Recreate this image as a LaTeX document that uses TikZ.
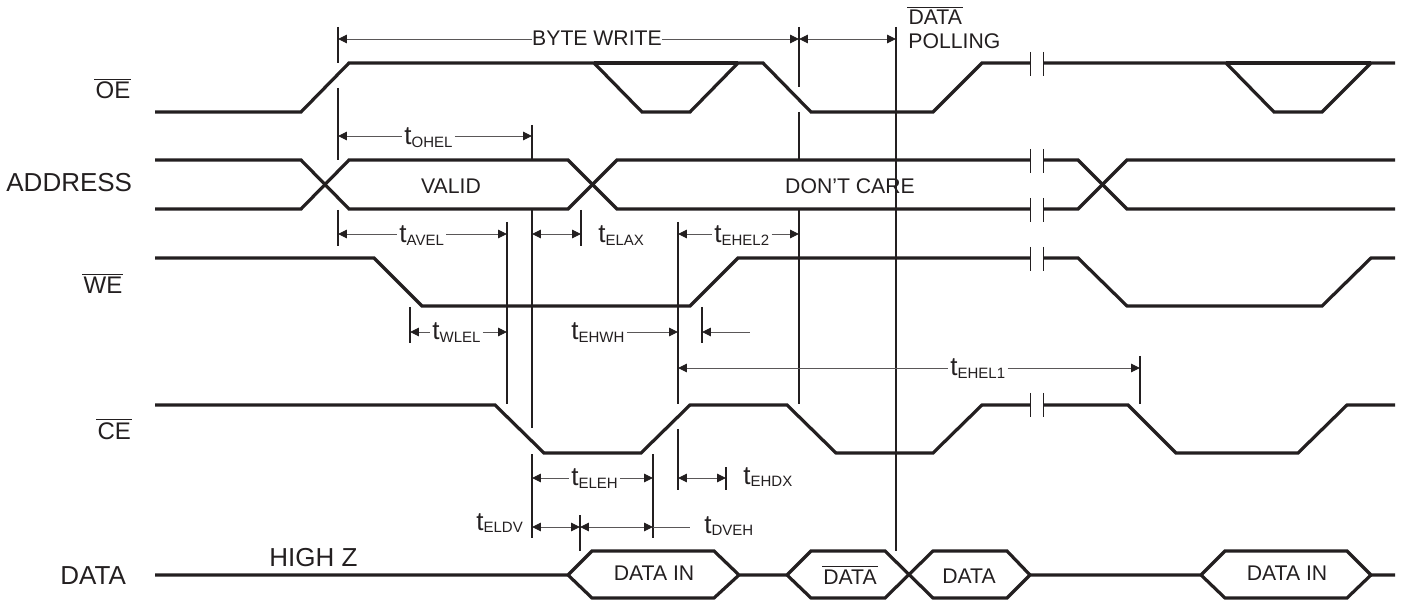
\documentclass[tikz,border=0pt]{standalone}
\usepackage{fontspec}
\setmainfont{Liberation Sans}
\usepackage{xcolor}
\definecolor{colorWave}{HTML}{231F20}
\colorlet{colorDim}{colorWave!75}
\usetikzlibrary{arrows.meta, positioning}
\newcommand{\tlabel}[1]{t\raisebox{-1.2pt}{\fontsize{7.5}{9}\selectfont #1}}
\newcommand{\barred}[1]{$\overline{\hbox{\kern0.6pt #1\kern0.6pt}}$}
\tikzset{
  wave/.style={line width=1.6pt, colorWave},
  tick/.style={line width=0.8pt, colorWave},
  breaktick/.style={line width=0.5pt, colorWave},
  dim/.style={line width=0.45pt, colorDim},
  signal/.style={font=\fontsize{13}{15}\selectfont, text=colorWave, inner sep=0pt, anchor=base west},
  activelow/.style={signal, font=\fontsize{12}{14}\selectfont},
  state/.style={font=\fontsize{10.6}{12}\selectfont, text=colorWave, inner sep=0pt, anchor=base},
  timing/.style={font=\fontsize{13}{15}\selectfont, text=colorWave, inner xsep=1pt, inner ysep=0pt, anchor=base west},
}
\begin{document}
\begin{tikzpicture}[x=0.5pt, y=-0.5pt, >={Triangle[length=4.4pt,width=4.2pt,color=colorWave]}]
\useasboundingbox (0,0) rectangle (1404,604);
% signal names
\node[activelow] (nameOE) at (94,99) {\barred{OE}};
\node[signal] (nameAddress) at (6,192) {ADDRESS};
\node[activelow] (nameWE) at (82,294) {\barred{WE}};
\node[activelow] (nameCE) at (96,439) {\barred{CE}};
\node[signal] (nameData) at (60,584) {DATA};
\node[signal] (highZ) at (269,566) {HIGH Z};
% waveforms
\draw[wave] (155,112) -- (301,112) -- (349,63) -- (594,63) -- (642,112) -- (690,112) -- (738,63) -- (763,63) -- (811,112) -- (933,112) -- (982,63) -- (1030,63);
\draw[wave] (594,63) -- (738,63);
\draw[wave] (1043,63) -- (1226,63) -- (1274,112) -- (1322,112) -- (1371,63) -- (1395,63);
\draw[wave] (1226,63) -- (1371,63);
\draw[wave] (155,160) -- (301,160) -- (349,209) -- (568,209) -- (617,160) -- (1030,160);
\draw[wave] (155,209) -- (301,209) -- (349,160) -- (568,160) -- (617,209) -- (1030,209);
\draw[wave] (1043,160) -- (1078,160) -- (1127,209) -- (1395,209);
\draw[wave] (1043,209) -- (1078,209) -- (1127,160) -- (1395,160);
\draw[wave] (155,258) -- (374,258) -- (422,306) -- (690,306) -- (738,258) -- (1030,258);
\draw[wave] (1043,258) -- (1078,258) -- (1127,306) -- (1322,306) -- (1371,258) -- (1395,258);
\draw[wave] (155,405) -- (495,405) -- (544,453) -- (641,453) -- (690,405) -- (787,405) -- (836,453) -- (933,453) -- (982,405) -- (1030,405);
\draw[wave] (1043,405) -- (1128,405) -- (1176,453) -- (1298,453) -- (1347,405) -- (1395,405);
\draw[wave] (155,575) -- (568,575) -- (592,551) -- (714,551) -- (739,575) -- (787,575) -- (811,551) -- (885,551) -- (933,598) -- (1007,598) -- (1030,575) -- (1201,575) -- (1225,551) -- (1347,551) -- (1371,575) -- (1395,575);
\draw[wave] (568,575) -- (592,598) -- (714,598) -- (739,575);
\draw[wave] (787,575) -- (811,598) -- (885,598) -- (933,551) -- (1007,551) -- (1030,575);
\draw[wave] (1201,575) -- (1225,598) -- (1347,598) -- (1371,575);
% breaks in the time axis
\draw[breaktick] (1030,52) -- (1030,76) (1043,52) -- (1043,76);
\draw[breaktick] (1030,149) -- (1030,173) (1043,149) -- (1043,173);
\draw[breaktick] (1030,198) -- (1030,222) (1043,198) -- (1043,222);
\draw[breaktick] (1030,247) -- (1030,271) (1043,247) -- (1043,271);
\draw[breaktick] (1030,393) -- (1030,417) (1043,393) -- (1043,417);
% reference lines
\draw[tick] (338,27) -- (338,63) (338,88) -- (338,160) (338,210) -- (338,246);
\draw[tick] (532,125) -- (532,160) (532,209) -- (532,428) (532,454) -- (532,538);
\draw[tick] (507,222) -- (507,404);
\draw[tick] (581,210) -- (581,246);
\draw[tick] (678,222) -- (678,404) (678,429) -- (678,490);
\draw[tick] (799,27) -- (799,87) (799,112) -- (799,160) (799,209) -- (799,404);
\draw[tick] (896,27) -- (896,551);
\draw[tick] (410,307) -- (410,343);
\draw[tick] (702,307) -- (702,343);
\draw[tick] (653,454) -- (653,538);
\draw[tick] (726,467) -- (726,490);
\draw[tick] (580,515) -- (580,551);
\draw[tick] (1140,356) -- (1140,404);
% labels inside the waveforms
\node[state] (valid) at (451,194) {VALID};
\node[state] (dontCare) at (850,194) {DON'T CARE};
\node[state] (dataInA) at (654,580) {DATA IN};
\node[state] (dataBar) at (850,584) {\barred{DATA}};
\node[state] (dataOut) at (969,583) {DATA};
\node[state] (dataInB) at (1287,580) {DATA IN};
\node[state, anchor=base west] (polling) at (908,49) {POLLING};
\node[state, anchor=base west] (pollingBar) at (907,25) {\barred{DATA}};
% timing labels
\node[state] (byteWrite) at (597,46) {BYTE WRITE};
\node[timing] (tOHEL) at (402,145) {\tlabel{OHEL}};
\node[timing] (tAVEL) at (397,243) {\tlabel{AVEL}};
\node[timing] (tELAX) at (596,243) {\tlabel{ELAX}};
\node[timing] (tEHELtwo) at (712,243) {\tlabel{EHEL2}};
\node[timing] (tWLEL) at (430,340) {\tlabel{WLEL}};
\node[timing] (tEHWH) at (569,340) {\tlabel{EHWH}};
\node[timing] (tEHELone) at (948,376) {\tlabel{EHEL1}};
\node[timing] (tELEH) at (569,486) {\tlabel{ELEH}};
\node[timing] (tEHDX) at (741,484) {\tlabel{EHDX}};
\node[timing] (tELDV) at (474,530) {\tlabel{ELDV}};
\node[timing] (tDVEH) at (702,533) {\tlabel{DVEH}};
% end points of the dimension lines
\coordinate (byteA) at (338,39);
\coordinate (byteB) at (799,39);
\coordinate (pollB) at (896,39);
\coordinate (ohelA) at (338,136);
\coordinate (ohelB) at (532,136);
\coordinate (avelA) at (338,234);
\coordinate (avelB) at (507,234);
\coordinate (elaxA) at (532,234);
\coordinate (elaxB) at (581,234);
\coordinate (ehelTwoA) at (678,234);
\coordinate (ehelTwoB) at (799,234);
\coordinate (wlelA) at (410,332);
\coordinate (wlelB) at (507,332);
\coordinate (ehwhB) at (678,332);
\coordinate (ehwhC) at (702,332);
\coordinate (ehwhD) at (750,332);
\coordinate (ehelOneA) at (678,368);
\coordinate (ehelOneB) at (1140,368);
\coordinate (elehA) at (532,478);
\coordinate (elehB) at (653,478);
\coordinate (ehdxA) at (678,478);
\coordinate (ehdxB) at (726,478);
\coordinate (eldvA) at (532,527);
\coordinate (eldvB) at (580,527);
\coordinate (dvehB) at (653,527);
\coordinate (dvehC) at (690,527);
% dimension lines
\draw[dim, <-] (byteA) -- (byteWrite.west |- byteA);
\draw[dim, ->] (byteWrite.east |- byteB) -- (byteB);
\draw[dim, <->] (byteB) -- (pollB);
\draw[dim, <-] (ohelA) -- (tOHEL.west |- ohelA);
\draw[dim, ->] (tOHEL.east |- ohelB) -- (ohelB);
\draw[dim, <-] (avelA) -- (tAVEL.west |- avelA);
\draw[dim, ->] (tAVEL.east |- avelB) -- (avelB);
\draw[dim, <->] (elaxA) -- (elaxB);
\draw[dim, <-] (ehelTwoA) -- (tEHELtwo.west |- ehelTwoA);
\draw[dim, ->] (tEHELtwo.east |- ehelTwoB) -- (ehelTwoB);
\draw[dim, <-] (wlelA) -- (tWLEL.west |- wlelA);
\draw[dim, ->] (tWLEL.east |- wlelB) -- (wlelB);
\draw[dim, ->] (tEHWH.east |- ehwhB) -- (ehwhB);
\draw[dim, <-] (ehwhC) -- (ehwhD);
\draw[dim, <-] (ehelOneA) -- (tEHELone.west |- ehelOneA);
\draw[dim, ->] (tEHELone.east |- ehelOneB) -- (ehelOneB);
\draw[dim, <-] (elehA) -- (tELEH.west |- elehA);
\draw[dim, ->] (tELEH.east |- elehB) -- (elehB);
\draw[dim, <->] (ehdxA) -- (ehdxB);
\draw[dim, <->] (eldvA) -- (eldvB);
\draw[dim, <->] (eldvB) -- (dvehB);
\draw[dim] (dvehB) -- (dvehC);
\end{tikzpicture}
\end{document}
